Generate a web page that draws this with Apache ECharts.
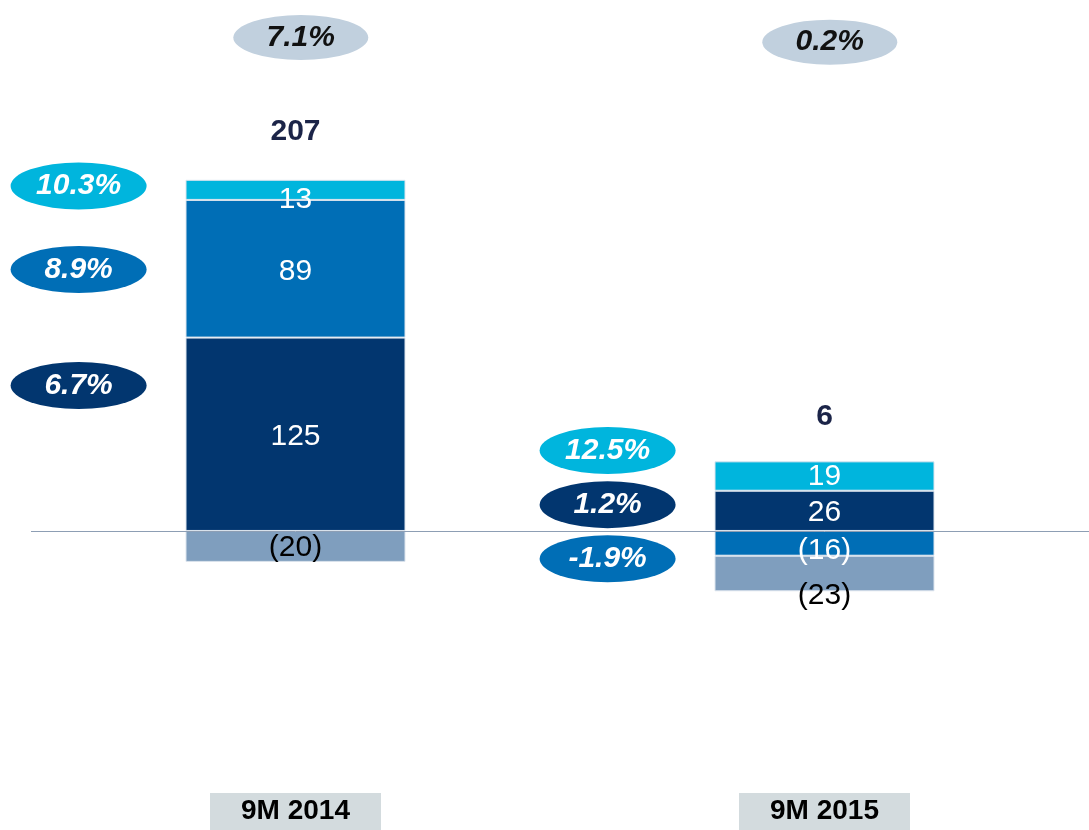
<!DOCTYPE html>
<html>
<head>
<meta charset="utf-8">
<script src="https://cdn.jsdelivr.net/npm/echarts@6/dist/echarts.min.js"></script>
<style>
  html, body { margin: 0; padding: 0; background: #fff; }
  #chart { width: 1089px; height: 830px; }
</style>
</head>
<body>
<div id="chart"></div>
<script>
// categories and segment values
const periods = ['9M 2014', '9M 2015'];
const navyValues = [125, 26];
const blueValues = [89, -16];
const cyanValues = [13, 19];
const greyValues = [-20, -23];

// margin badges: text, x (0..2 across the two periods), y (value units)
const segmentBadges = ['10.3%', '8.9%', '6.7%', '12.5%', '1.2%', '-1.9%'];
const segmentBadgeX = [0.09, 0.09, 0.09, 1.09, 1.09, 1.09];
const segmentBadgeY = [223, 169, 94, 52, 17, -18];
const segmentBadgeKind = ['cyan', 'blue', 'navy', 'cyan', 'navy', 'blue'];
const totalBadges = ['7.1%', '0.2%'];
const totalBadgeX = [0.51, 1.51];
const totalBadgeY = [319, 316];

const colors = {
  navy: '#02366f',
  blue: '#006eb6',
  cyan: '#00b5dd',
  grey: '#7f9ebe',
  badgeGrey: '#c1d0de'
};
const font = 'Liberation Sans, Arial, sans-serif';

// totals and positive tops from the series
const totals = periods.map((p, i) => navyValues[i] + blueValues[i] + cyanValues[i] + greyValues[i]);
const posTops = periods.map((p, i) =>
  [navyValues[i], blueValues[i], cyanValues[i], greyValues[i]].filter(v => v > 0).reduce((a, b) => a + b, 0));

const fmt = v => v < 0 ? '(' + Math.abs(v) + ')' : String(v);

function segLabel(extra) {
  return Object.assign({
    show: true,
    position: 'inside',
    color: '#fff',
    fontSize: 30,
    fontFamily: font,
    formatter: p => fmt(p.value)
  }, extra || {});
}

const barBase = {
  type: 'bar',
  stack: 'total',
  barWidth: 220,
  xAxisIndex: 0,
  itemStyle: { borderColor: '#dde5ee', borderWidth: 1 }
};

const chart = echarts.init(document.getElementById('chart'));

const option = {
  animation: false,
  grid: { left: 31, top: 5, width: 1060, height: 759.5 },
  xAxis: [
    {
      type: 'category',
      data: periods,
      axisLine: { show: false },
      axisTick: { show: false },
      axisLabel: {
        margin: 30,
        fontSize: 28,
        fontWeight: 'bold',
        fontFamily: font,
        color: '#000',
        backgroundColor: '#d3dbde',
        width: 171,
        align: 'center',
        padding: [4, 0, 5, 0]
      }
    },
    { type: 'value', min: 0, max: 2, show: false }
  ],
  yAxis: { type: 'value', min: -150, max: 340, show: false },
  series: [
    Object.assign({}, barBase, {
      name: 'navy',
      data: navyValues,
      itemStyle: Object.assign({}, barBase.itemStyle, { color: colors.navy }),
      label: segLabel({ offset: [0, 2] }),
      markLine: {
        silent: true,
        symbol: ['none', 'none'],
        label: { show: false },
        lineStyle: { color: '#8d9eb4', width: 1, type: 'solid' },
        data: [{ yAxis: 0 }]
      }
    }),
    Object.assign({}, barBase, {
      name: 'blue',
      data: blueValues.map((v, i) => i === 1 ? { value: v, label: { offset: [0, 7] } } : v),
      itemStyle: Object.assign({}, barBase.itemStyle, { color: colors.blue }),
      label: segLabel({ offset: [0, 3] })
    }),
    Object.assign({}, barBase, {
      name: 'cyan',
      data: cyanValues.map((v, i) => i === 0 ? { value: v, label: { offset: [0, 10] } } : v),
      itemStyle: Object.assign({}, barBase.itemStyle, { color: colors.cyan }),
      label: segLabel({ offset: [0, 1] })
    }),
    Object.assign({}, barBase, {
      name: 'grey',
      data: greyValues.map((v, i) => i === 1 ? { value: v, label: { offset: [0, 22] } } : v),
      itemStyle: Object.assign({}, barBase.itemStyle, { color: colors.grey }),
      label: segLabel({ color: '#000', offset: [0, 1] })
    }),
    {
      name: 'total',
      type: 'scatter',
      xAxisIndex: 0,
      symbolSize: 0,
      silent: true,
      itemStyle: { opacity: 1 },
      data: posTops.map((v, i) => ({
        value: v,
        total: totals[i],
        label: { distance: i === 0 ? 33 : 30 }
      })),
      label: {
        show: true,
        position: 'top',
        fontSize: 30,
        fontWeight: 'bold',
        fontFamily: font,
        color: '#1b2448',
        formatter: p => String(p.data.total)
      }
    },
    {
      name: 'segment badges',
      type: 'scatter',
      xAxisIndex: 1,
      symbol: 'circle',
      symbolSize: [136, 47],
      silent: true,
      z: 5,
      data: segmentBadges.map((t, i) => ({
        value: [segmentBadgeX[i], segmentBadgeY[i]],
        text: t,
        itemStyle: { color: colors[segmentBadgeKind[i]], opacity: 1 }
      })),
      label: {
        show: true,
        position: 'inside',
        color: '#fff',
        fontSize: 30,
        fontWeight: 'bold',
        fontStyle: 'italic',
        fontFamily: font,
        formatter: p => p.data.text
      }
    },
    {
      name: 'total badges',
      type: 'scatter',
      xAxisIndex: 1,
      symbol: 'circle',
      symbolSize: [135, 45],
      silent: true,
      z: 5,
      data: totalBadges.map((t, i) => ({
        value: [totalBadgeX[i], totalBadgeY[i]],
        text: t
      })),
      itemStyle: { color: colors.badgeGrey, opacity: 1 },
      label: {
        show: true,
        position: 'inside',
        color: '#111',
        fontSize: 30,
        fontWeight: 'bold',
        fontStyle: 'italic',
        fontFamily: font,
        formatter: p => p.data.text
      }
    }
  ]
};

chart.setOption(option);
</script>
</body>
</html>
